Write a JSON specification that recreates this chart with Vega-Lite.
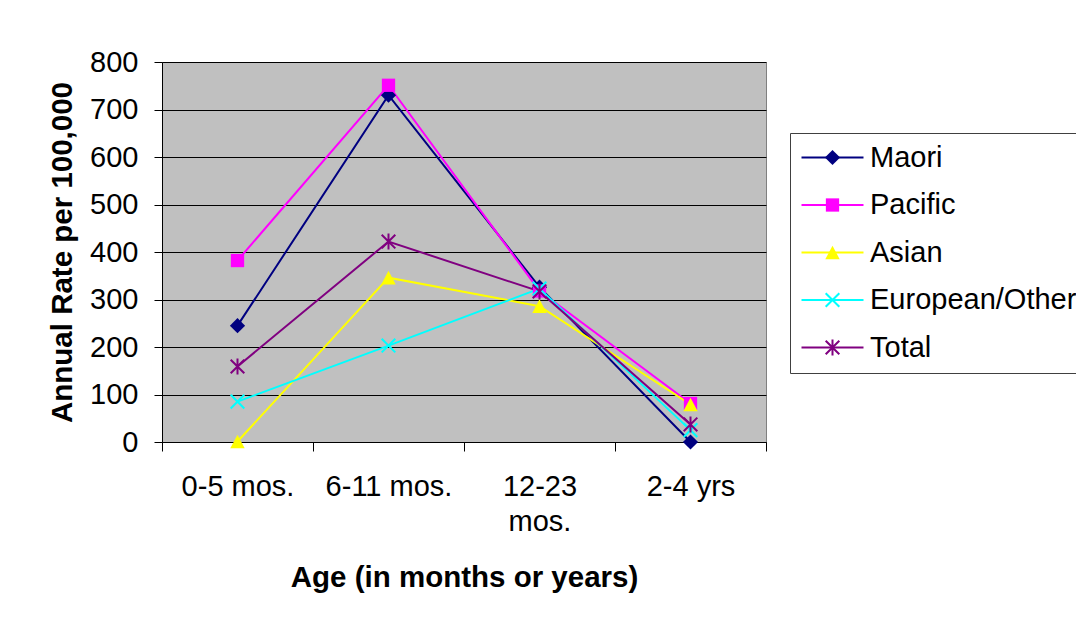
{
  "$schema": "https://vega.github.io/schema/vega-lite/v6.json",
  "width": 604,
  "height": 380,
  "autosize": {"type": "none"},
  "padding": {"left": 162, "top": 62, "right": 310, "bottom": 176},
  "background": "white",
  "config": {
    "font": "Liberation Sans",
    "view": {"fill": "#C0C0C0", "stroke": "#808080", "strokeWidth": 1},
    "axis": {"labelFont": "Liberation Sans", "titleFont": "Liberation Sans", "labelColor": "black", "titleColor": "black", "domainColor": "black", "tickColor": "black", "labelFontSize": 29, "titleFontSize": 29.5, "titleFontWeight": "bold"},
    "legend": {"labelFont": "Liberation Sans", "labelFontSize": 29, "labelColor": "black"}
  },
  "data": {"values": [
    {"series": "Maori", "age": "0-5 mos.", "rate": 245},
    {"series": "Maori", "age": "6-11 mos.", "rate": 730},
    {"series": "Maori", "age": "12-23 mos.", "rate": 326},
    {"series": "Maori", "age": "2-4 yrs", "rate": 0},
    {"series": "Pacific", "age": "0-5 mos.", "rate": 382},
    {"series": "Pacific", "age": "6-11 mos.", "rate": 751},
    {"series": "Pacific", "age": "12-23 mos.", "rate": 318},
    {"series": "Pacific", "age": "2-4 yrs", "rate": 81},
    {"series": "Asian", "age": "0-5 mos.", "rate": 1},
    {"series": "Asian", "age": "6-11 mos.", "rate": 346},
    {"series": "Asian", "age": "12-23 mos.", "rate": 286},
    {"series": "Asian", "age": "2-4 yrs", "rate": 79},
    {"series": "European/Other", "age": "0-5 mos.", "rate": 85},
    {"series": "European/Other", "age": "6-11 mos.", "rate": 203},
    {"series": "European/Other", "age": "12-23 mos.", "rate": 323},
    {"series": "European/Other", "age": "2-4 yrs", "rate": 25},
    {"series": "Total", "age": "0-5 mos.", "rate": 159},
    {"series": "Total", "age": "6-11 mos.", "rate": 422},
    {"series": "Total", "age": "12-23 mos.", "rate": 317},
    {"series": "Total", "age": "2-4 yrs", "rate": 37}
  ]},
  "encoding": {
    "x": {
      "field": "age", "type": "nominal",
      "sort": ["0-5 mos.", "6-11 mos.", "12-23 mos.", "2-4 yrs"],
      "scale": {"type": "band", "paddingInner": 0, "paddingOuter": 0},
      "axis": {
        "title": "Age (in months or years)",
        "labelAngle": 0,
        "tickBand": "extent",
        "tickSize": 9,
        "labelPadding": 21,
        "labelLineHeight": 35,
        "labelExpr": "datum.value == '12-23 mos.' ? ['12-23', 'mos.'] : datum.value",
        "titlePadding": 27,
        "grid": false
      }
    },
    "y": {
      "field": "rate", "type": "quantitative",
      "scale": {"domain": [0, 800], "nice": false},
      "axis": {
        "title": "Annual Rate per 100,000",
        "values": [0, 100, 200, 300, 400, 500, 600, 700, 800],
        "tickSize": 8,
        "labelPadding": 16,
        "titlePadding": 12,
        "grid": true,
        "gridColor": "black",
        "gridWidth": 1,
        "gridOpacity": 1
      }
    }
  },
  "layer": [
    {
      "mark": {"type": "line", "strokeWidth": 2, "clip": false},
      "encoding": {
        "order": {"value": null},
        "stroke": {
          "field": "series", "type": "nominal",
          "sort": ["Maori", "Pacific", "Asian", "European/Other", "Total"],
          "scale": {"range": ["#000080", "#FF00FF", "#FFFF00", "#00FFFF", "#800080"]},
          "legend": {
            "title": null,
            "orient": "none",
            "legendX": 628,
            "legendY": 71,
            "padding": 10,
            "strokeColor": "#404040",
            "symbolType": "M-3.875,0L3.875,0",
            "symbolSize": 256,
            "symbolStrokeWidth": 2,
            "symbolOffset": 18,
            "labelOffset": 23,
            "labelLimit": 0,
            "rowPadding": 17.5
          }
        }
      }
    },
    {
      "mark": {"type": "point", "filled": true, "opacity": 1, "size": 256, "strokeWidth": 0, "clip": false},
      "encoding": {
        "fill": {
          "field": "series", "type": "nominal",
          "scale": {"domain": ["Maori", "Pacific", "Asian", "European/Other", "Total"], "range": ["#000080", "#FF00FF", "#FFFF00", "#00FFFF", "#800080"]},
          "legend": {
            "title": null,
            "orient": "none",
            "legendX": 628,
            "legendY": 71,
            "padding": 10,
            "symbolSize": 256,
            "symbolStrokeWidth": 0,
            "symbolOffset": 18,
            "labelOffset": 23,
            "labelLimit": 0,
            "labelOpacity": 0,
            "rowPadding": 17.5
          }
        },
        "shape": {
          "field": "series", "type": "nominal",
          "scale": {"domain": ["Maori", "Pacific", "Asian", "European/Other", "Total"], "range": [
            "M0,-0.95L0.95,0L0,0.95L-0.95,0Z",
            "M-0.83,-0.83L0.83,-0.83L0.83,0.83L-0.83,0.83Z",
            "M0,-0.85L0.9,0.85L-0.9,0.85Z",
            "M-0.76,-0.94L0.94,0.76L0.76,0.94L-0.94,-0.76ZM-0.94,0.76L0.76,-0.94L0.94,-0.76L-0.76,0.94Z",
            "M-0.76,-0.94L0.94,0.76L0.76,0.94L-0.94,-0.76ZM-0.94,0.76L0.76,-0.94L0.94,-0.76L-0.76,0.94ZM-0.125,-1L0.125,-1L0.125,1L-0.125,1Z"
          ]},
          "legend": {
            "title": null,
            "orient": "none",
            "legendX": 628,
            "legendY": 71,
            "padding": 10,
            "symbolSize": 256,
            "symbolStrokeWidth": 0,
            "symbolOffset": 18,
            "labelOffset": 23,
            "labelLimit": 0,
            "labelOpacity": 0,
            "rowPadding": 17.5
          }
        }
      }
    }
  ]
}
